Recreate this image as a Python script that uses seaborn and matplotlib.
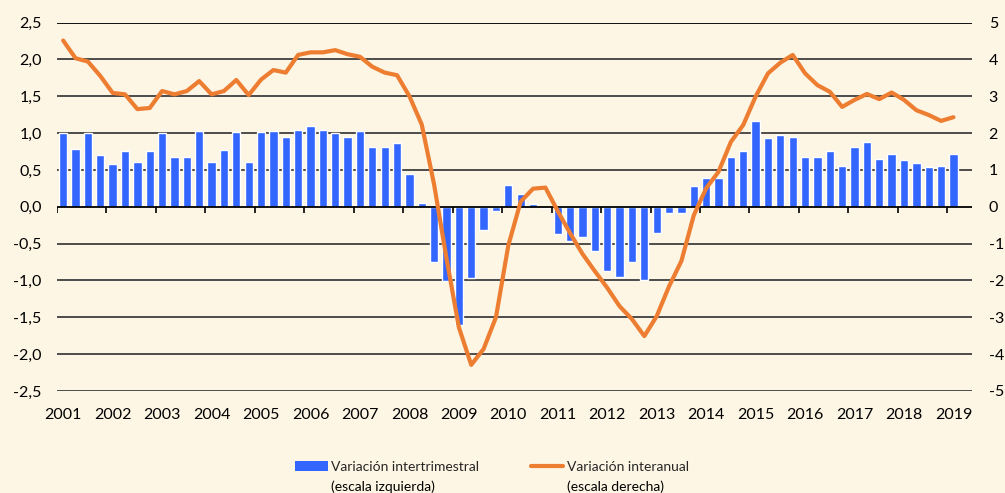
import numpy as np
import pandas as pd
import matplotlib
matplotlib.use('Agg')
import matplotlib.pyplot as plt
import seaborn as sns
from matplotlib.patches import Patch
from matplotlib.lines import Line2D

# ---------------- data ----------------
years = [str(y) for y in range(2001, 2020)]
quarters = [f"{y}T{q}" for y in range(2001, 2019) for q in range(1, 5)] + ["2019T1"]

# quarter-on-quarter change (left axis)
qoq = [1.00, 0.79, 1.00, 0.70,
       0.58, 0.76, 0.61, 0.76,
       1.00, 0.68, 0.68, 1.03,
       0.61, 0.77, 1.01, 0.61,
       1.01, 1.03, 0.95, 1.04,
       1.09, 1.04, 1.00, 0.95,
       1.03, 0.81, 0.81, 0.86,
       0.45, 0.05, -0.75, -1.01,
       -1.60, -0.96, -0.31, -0.06,
       0.30, 0.17, 0.04, -0.02,
       -0.37, -0.47, -0.41, -0.60,
       -0.87, -0.95, -0.75, -0.99,
       -0.35, -0.08, -0.08, 0.28,
       0.39, 0.39, 0.68, 0.75,
       1.17, 0.93, 0.97, 0.95,
       0.68, 0.68, 0.75, 0.55,
       0.81, 0.88, 0.645, 0.72,
       0.63, 0.59, 0.54, 0.555,
       0.72]

# year-on-year change (right axis)
yoy = [4.51, 4.03, 3.94, 3.55,
       3.09, 3.05, 2.65, 2.68,
       3.14, 3.05, 3.14, 3.41,
       3.05, 3.14, 3.44, 3.03,
       3.45, 3.71, 3.64, 4.12,
       4.19, 4.19, 4.25, 4.14,
       4.07, 3.80, 3.64, 3.57,
       3.00, 2.23, 0.60, -1.40,
       -3.27, -4.29, -3.86, -3.00,
       -1.05, 0.14, 0.49, 0.52,
       -0.12, -0.72, -1.28, -1.75,
       -2.20, -2.70, -3.05, -3.51,
       -2.97, -2.16, -1.47, -0.23,
       0.50, 0.95, 1.76, 2.22,
       2.99, 3.62, 3.91, 4.12,
       3.62, 3.30, 3.12, 2.71,
       2.90, 3.06, 2.92, 3.10,
       2.90, 2.62, 2.49, 2.33,
       2.43]

left_ticks = [2.5, 2.0, 1.5, 1.0, 0.5, 0.0, -0.5, -1.0, -1.5, -2.0, -2.5]
left_labels = ["2,5", "2,0", "1,5", "1,0", "0,5", "0,0", "-0,5", "-1,0", "-1,5", "-2,0", "-2,5"]
right_ticks = [5, 4, 3, 2, 1, 0, -1, -2, -3, -4, -5]
right_labels = [str(v) for v in right_ticks]

legend_labels = ["Variación intertrimestral", "Variación interanual"]
legend_sub = ["(escala izquierda)", "(escala derecha)"]

# ---------------- style ----------------
BG = "#FDF6E4"
BLUE = "#3366FF"
ORANGE = "#ED7D31"
GRID = "#3F3F3F"

sns.set_theme(style="white")
plt.rcParams['font.family'] = ['Lato', 'DejaVu Sans']

df = pd.DataFrame({"quarter": quarters, "qoq": qoq, "yoy": yoy,
                   "pos": np.arange(len(quarters))})

fig = plt.figure(figsize=(10.05, 4.93), dpi=100, facecolor=BG)
ax = fig.add_axes([57 / 1005, 1 - 391 / 493, (972 - 57) / 1005, (391 - 22.5) / 493])
ax.set_facecolor(BG)

sns.barplot(data=df, x="quarter", y="qoq", color=BLUE, saturation=1,
            width=0.67, ax=ax, zorder=3)

# horizontal gridlines
for v in left_ticks:
    if v == 0:
        continue
    ax.axhline(v, color="black" if v == 2.5 else GRID, lw=1.3, zorder=1)
ax.axhline(0, color="black", lw=1.3, zorder=4)
# category tick marks on zero line at year boundaries
ax.vlines(df["pos"].to_numpy()[::4] - 0.5, -0.09, 0, color="black", lw=1.2, zorder=4)

ax.set_xlim(-0.5, 73.5)
ax.set_ylim(-2.5, 2.5)
ax.set_xticks(df["pos"].to_numpy()[::4], years)
ax.set_yticks(left_ticks, left_labels)
ax.tick_params(axis="x", length=0, pad=12, labelsize=11.5, labelcolor="black")
ax.tick_params(axis="y", length=0, pad=11, labelsize=11.5, labelcolor="black")
ax.set_xlabel("")
ax.set_ylabel("")
for s in ax.spines.values():
    s.set_visible(False)

ax2 = ax.twinx()
sns.lineplot(data=df, x="pos", y="yoy", color=ORANGE, lw=3, ax=ax2,
             solid_joinstyle="round", solid_capstyle="round")
ax2.set_ylim(-5, 5)
ax2.set_xlim(-0.5, 73.5)
ax2.set_yticks(right_ticks, right_labels)
ax2.tick_params(axis="y", length=0, pad=12, labelsize=11.5, labelcolor="black")
ax2.set_ylabel("")
ax2.set_xlabel("")
for s in ax2.spines.values():
    s.set_visible(False)

handles = [Patch(facecolor=BLUE, edgecolor="none"),
           Line2D([], [], color=ORANGE, lw=3)]
leg = fig.legend(handles, legend_labels, loc="center left",
                 bbox_to_anchor=(295 / 1005, 1 - 467 / 493), ncol=2, frameon=False,
                 fontsize=10, handlelength=2.35, handleheight=0.75, handletextpad=0.25,
                 columnspacing=3.7, borderpad=0, borderaxespad=0)

fig.canvas.draw()
W, H = fig.bbox.width, fig.bbox.height
for t, sub in zip(leg.get_texts(), legend_sub):
    bb = t.get_window_extent()
    fig.text(bb.x0 / W, ((bb.y0 + bb.y1) / 2 - 20) / H, sub, fontsize=10,
             ha="left", va="center", color="black")

fig.savefig("out.png", dpi=100, facecolor=BG)
